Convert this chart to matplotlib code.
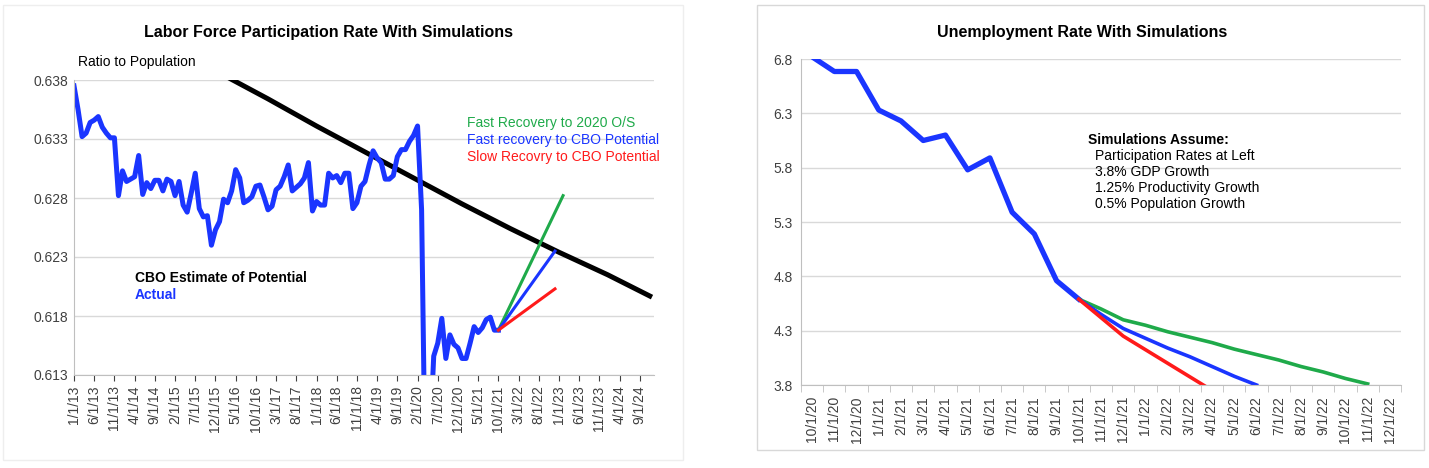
import matplotlib
matplotlib.use("Agg")
import matplotlib.pyplot as plt
from matplotlib.patches import Rectangle
import numpy as np

plt.rcParams['font.family'] = ['Liberation Sans', 'DejaVu Sans']

# ---------------- Left chart data (monthly index from 1/1/13) ----------------
lf_actual = [0.6375, 0.6355, 0.6332, 0.6335, 0.6344, 0.6346, 0.6349, 0.6340, 0.6335, 0.6331, 0.6331,
             0.6282, 0.6303, 0.6294, 0.6296, 0.6298, 0.6316, 0.6283, 0.6293, 0.6288, 0.6295, 0.6295,
             0.6286, 0.6296, 0.6294, 0.6282, 0.6294, 0.6274, 0.6268, 0.6284, 0.6301, 0.6271, 0.6264,
             0.6265, 0.6240, 0.6253, 0.6260, 0.6279, 0.6276, 0.6286, 0.6304, 0.6297, 0.6276, 0.6278,
             0.6281, 0.6290, 0.6291, 0.6281, 0.6270, 0.6273, 0.6287, 0.6290, 0.6298, 0.6308, 0.6286,
             0.6289, 0.6292, 0.6297, 0.6310, 0.6269, 0.6277, 0.6274, 0.6274, 0.6301, 0.6297, 0.6299,
             0.6293, 0.6301, 0.6301, 0.6271, 0.6276, 0.6290, 0.6294, 0.6308, 0.6320, 0.6314, 0.6310,
             0.6296, 0.6296, 0.6299, 0.6315, 0.6321, 0.6321, 0.6328, 0.6333, 0.6341, 0.6270, 0.6020,
             0.6070, 0.6146, 0.6157, 0.6178, 0.6144, 0.6164, 0.6156, 0.6153, 0.6144, 0.6144, 0.6157,
             0.6171, 0.6166, 0.6170, 0.6177, 0.6179, 0.6168, 0.6168]
cbo_months = [0, 12, 24, 36, 48, 60, 72, 84, 96, 108, 120, 132, 143]
cbo_values = [0.6452, 0.6431, 0.6409, 0.6386, 0.6364, 0.6341, 0.6319, 0.6297, 0.6275, 0.6254, 0.6234, 0.6215, 0.6196]
sim_fast2020_m = [105, 121]; sim_fast2020_v = [0.6168, 0.6282]
sim_fastcbo_m = [105, 119];  sim_fastcbo_v = [0.6168, 0.6235]
sim_slowcbo_m = [105, 119];  sim_slowcbo_v = [0.6168, 0.6203]
lf_tick_labels = ['1/1/13', '6/1/13', '11/1/13', '4/1/14', '9/1/14', '2/1/15', '7/1/15', '12/1/15',
                  '5/1/16', '10/1/16', '3/1/17', '8/1/17', '1/1/18', '6/1/18', '11/1/18', '4/1/19',
                  '9/1/19', '2/1/20', '7/1/20', '12/1/20', '5/1/21', '10/1/21', '3/1/22', '8/1/22',
                  '1/1/23', '6/1/23', '11/1/23', '4/1/24', '9/1/24']
lf_yticks = [0.613, 0.618, 0.623, 0.628, 0.633, 0.638]

# ---------------- Right chart data ----------------
ur_categories = ['10/1/20', '11/1/20', '12/1/20', '1/1/21', '2/1/21', '3/1/21', '4/1/21', '5/1/21',
                 '6/1/21', '7/1/21', '8/1/21', '9/1/21', '10/1/21', '11/1/21', '12/1/21', '1/1/22',
                 '2/1/22', '3/1/22', '4/1/22', '5/1/22', '6/1/22', '7/1/22', '8/1/22', '9/1/22',
                 '10/1/22', '11/1/22', '12/1/22']
ur_actual = [6.82, 6.685, 6.685, 6.33, 6.23, 6.05, 6.10, 5.78, 5.89, 5.39, 5.19, 4.76, 4.59]
ur_green = [4.59, 4.50, 4.40, 4.35, 4.29, 4.24, 4.19, 4.13, 4.08, 4.03, 3.97, 3.92, 3.86, 3.81]
ur_blue = [4.59, 4.45, 4.32, 4.23, 4.14, 4.06, 3.97, 3.88, 3.80]
ur_red = [4.59, 4.42, 4.25, 4.125, 4.0, 3.875, 3.75]
ur_yticks = [3.8, 4.3, 4.8, 5.3, 5.8, 6.3, 6.8]

BLUE = '#1a35ff'; GREEN = '#1faa4a'; RED = '#ff1a1a'
W, H = 1429, 468
fig = plt.figure(figsize=(W / 100, H / 100), dpi=100)

def ftxt(x, y, s, **kw):
    fig.text(x / W, 1 - y / H, s, **kw)

# frames
fig.patches.append(Rectangle((3 / W, 8 / H), 680 / W, 455 / H, transform=fig.transFigure,
                             fill=False, edgecolor='#eeeeee', lw=1))
fig.patches.append(Rectangle((757 / W, 18 / H), 667 / W, 445 / H, transform=fig.transFigure,
                             fill=False, edgecolor='#d8d8d8', lw=1))

# ---- left
ax = fig.add_axes([74 / W, 1 - 375 / H, 580 / W, 295 / H])
ax.plot(cbo_months, cbo_values, color='black', lw=3.6, solid_capstyle='butt')
ax.plot(range(len(lf_actual)), lf_actual, color=BLUE, lw=3.6)
ax.plot(sim_fast2020_m, sim_fast2020_v, color=GREEN, lw=2.2)
ax.plot(sim_fastcbo_m, sim_fastcbo_v, color=BLUE, lw=2.2)
ax.plot(sim_slowcbo_m, sim_slowcbo_v, color=RED, lw=2.2)
ax.set_xlim(0, 143.5)
ax.set_ylim(0.613, 0.638)
ax.set_yticks(lf_yticks)
ax.set_yticklabels([f'{v:.3f}' for v in lf_yticks])
ax.set_xticks(range(0, 5 * len(lf_tick_labels), 5))
ax.set_xticklabels(lf_tick_labels, rotation=90)
ax.grid(axis='y', color='#d9d9d9', lw=1)
ax.set_axisbelow(True)
for s in ['top', 'right']:
    ax.spines[s].set_visible(False)
for s in ['left', 'bottom']:
    ax.spines[s].set_color('#bfbfbf')
ax.tick_params(labelsize=10, colors='#404040', length=4)
ax.tick_params(axis='y', length=0, pad=4)

ftxt(328, 32, 'Labor Force Participation Rate With Simulations', ha='center', va='center',
     fontsize=11.5, fontweight='bold')
ftxt(78, 62, 'Ratio to Population', ha='left', va='center', fontsize=10)
ftxt(467, 123, 'Fast Recovery to 2020 O/S', color=GREEN, ha='left', va='center', fontsize=10)
ftxt(467, 140, 'Fast recovery to CBO Potential', color=BLUE, ha='left', va='center', fontsize=10)
ftxt(467, 157, 'Slow Recovry to CBO Potential', color=RED, ha='left', va='center', fontsize=10)
ftxt(135, 278, 'CBO Estimate of Potential', color='black', ha='left', va='center', fontsize=10,
     fontweight='bold')
ftxt(135, 295, 'Actual', color=BLUE, ha='left', va='center', fontsize=10, fontweight='bold')

# ---- right
ax2 = fig.add_axes([801 / W, 1 - 385 / H, 600 / W, 326 / H])
n = len(ur_categories)
ax2.plot(range(len(ur_actual)), ur_actual, color=BLUE, lw=3.8)
s0 = len(ur_actual) - 1
ax2.plot(range(s0, s0 + len(ur_green)), ur_green, color=GREEN, lw=2.6)
ax2.plot(range(s0, s0 + len(ur_blue)), ur_blue, color=BLUE, lw=2.6)
ax2.plot(range(s0, s0 + len(ur_red)), ur_red, color=RED, lw=2.6)
ax2.set_xlim(-0.5, n - 0.5)
ax2.set_ylim(3.8, 6.8)
ax2.set_yticks(ur_yticks)
ax2.set_yticklabels([f'{v:.1f}' for v in ur_yticks])
ax2.set_xticks(range(n))
ax2.set_xticklabels(ur_categories, rotation=90)
ax2.set_xticks(np.arange(-0.5, n, 1.0), minor=True)
ax2.tick_params(axis='x', which='major', length=0, pad=8)
ax2.tick_params(axis='x', which='minor', length=5, color='#bfbfbf')
ax2.tick_params(axis='y', length=0, pad=6)
ax2.tick_params(labelsize=10, colors='#404040')
ax2.grid(axis='y', color='#d9d9d9', lw=1)
ax2.set_axisbelow(True)
for s in ['top', 'right']:
    ax2.spines[s].set_visible(False)
for s in ['left', 'bottom']:
    ax2.spines[s].set_color('#bfbfbf')

ftxt(1082, 32, 'Unemployment Rate With Simulations', ha='center', va='center',
     fontsize=11.5, fontweight='bold')
ftxt(1088, 140, 'Simulations Assume:', ha='left', va='center', fontsize=10, fontweight='bold')
for i, s in enumerate(['Participation Rates at Left', '3.8% GDP Growth',
                       '1.25% Productivity Growth', '0.5% Population Growth']):
    ftxt(1095, 156 + 16 * i, s, ha='left', va='center', fontsize=10)

fig.savefig('out.png', dpi=100)
